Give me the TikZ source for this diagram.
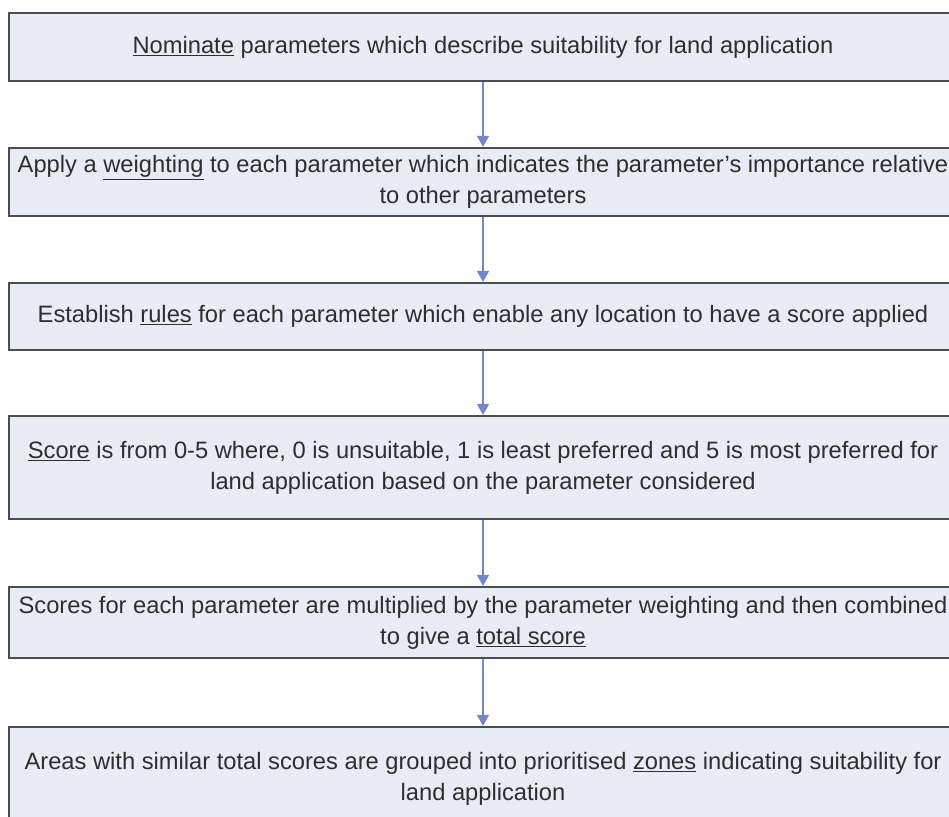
\documentclass[tikz,border=0pt]{standalone}
\usepackage{fontspec}
\setmainfont{Liberation Sans}
\usetikzlibrary{arrows.meta}
\definecolor{boxfill}{HTML}{E7ECF6}
\definecolor{boxline}{HTML}{4D4D4D}
\definecolor{boxtext}{HTML}{2E2E2E}
\definecolor{arrowblue}{HTML}{7386CC}
\tikzset{
  stage/.style={draw=boxline, line width=2.2pt, fill=boxfill, minimum width=948pt,
    align=center, inner sep=0pt, text=boxtext, font=\fontsize{23.7}{31}\selectfont},
  flow/.style={-{Triangle[length=11pt,width=12pt]}, draw=arrowblue, fill=arrowblue, line width=1.6pt}
}
\begin{document}
\begin{tikzpicture}[x=1pt,y=-1pt]
	\path[use as bounding box, clip] (0,0) rectangle (949,816);
	\node[stage, minimum height=68pt] (nom) at (483,47) {\underline{Nominate} parameters which describe suitability for land application};
	\node[stage, minimum height=68pt] (wgt) at (483,182) {Apply a \underline{weighting} to each parameter which indicates the parameter's importance relative\\to other parameters};
	\node[stage, minimum height=67pt] (rul) at (483,316.5) {Establish \underline{rules} for each parameter which enable any location to have a score applied};
	\node[stage, minimum height=103pt] (sco) at (483,467.5) {\underline{Score} is from 0-5 where, 0 is unsuitable, 1 is least preferred and 5 is most preferred for\\land application based on the parameter considered};
	\node[stage, minimum height=71pt] (tot) at (483,622.5) {Scores for each parameter are multiplied by the parameter weighting and then combined\\to give a \underline{total score}};
	\node[stage, minimum height=103pt] (zon) at (483,778.5) {Areas with similar total scores are grouped into prioritised \underline{zones} indicating suitability for\\land application};
	\path[flow] (nom) edge (wgt);
	\path[flow] (wgt) edge (rul);
	\path[flow] (rul) edge (sco);
	\path[flow] (sco) edge (tot);
	\path[flow] (tot) edge (zon);
\end{tikzpicture}
\end{document}
